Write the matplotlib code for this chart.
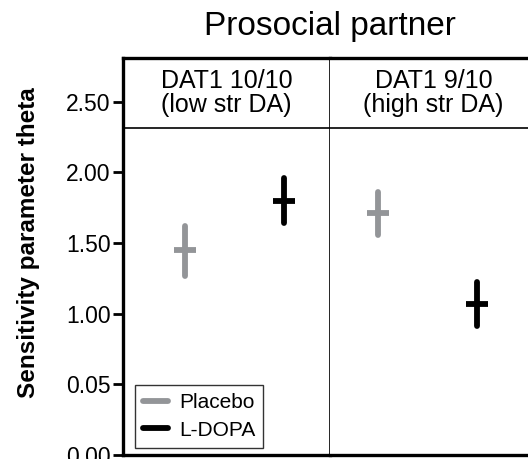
import matplotlib.pyplot as plt

plt.rcParams['font.family'] = ['Liberation Sans', 'DejaVu Sans']

panels = ["DAT1 10/10\n(low str DA)", "DAT1 9/10\n(high str DA)"]
groups = ["Placebo", "L-DOPA"]
colors = ["#939598", "#000000"]

# theta estimates and interval bounds per panel, order: Placebo, L-DOPA
theta = [[1.45, 1.80], [1.71, 1.07]]
lower = [[1.27, 1.64], [1.56, 0.915]]
upper = [[1.62, 1.96], [1.86, 1.225]]

ytick_vals = [0.0, 0.5, 1.0, 1.5, 2.0, 2.5]
ytick_labels = ["0.00", "0.05", "1.00", "1.50", "2.00", "2.50"]

fig = plt.figure(figsize=(5.28, 4.59), dpi=100)
W, H = 528, 459
left_px, mid_px, right_px = 123, 330, 537
top_px, bot_px = 58, 455
strip_val = 2.316
ymax = 2.81

dodge = [[0.30, 0.78], [0.23, 0.71]]

axes = []
for i in range(2):
    x0 = [left_px, mid_px][i]
    x1 = [mid_px, right_px][i]
    ax = fig.add_axes([x0 / W, (H - bot_px) / H, (x1 - x0) / W, (bot_px - top_px) / H])
    ax.set_xlim(0, 1)
    ax.set_ylim(0, ymax)
    ax.set_xticks([])
    for j in range(2):
        ax.plot([dodge[i][j], dodge[i][j]], [lower[i][j], upper[i][j]],
                color=colors[j], lw=4.2, solid_capstyle='round', zorder=3)
        ax.plot([dodge[i][j]], [theta[i][j]], marker='_', ms=16, mew=4.2,
                color=colors[j], zorder=3, solid_capstyle='round')
    ax.axhline(strip_val, color='black', lw=1.2)
    ax.text(0.5, (strip_val + ymax) / 2, panels[i], ha='center', va='center',
            fontsize=18, linespacing=1.0)
    for s in ax.spines.values():
        s.set_linewidth(1.2)
    axes.append(ax)

ax1, ax2 = axes
ax1.spines['left'].set_linewidth(2.4)
ax1.spines['top'].set_linewidth(2.4)
ax1.spines['bottom'].set_linewidth(2.4)
ax2.spines['top'].set_linewidth(2.4)
ax2.spines['bottom'].set_linewidth(2.4)
ax2.spines['left'].set_visible(False)

ax1.set_yticks(ytick_vals)
ax1.set_yticklabels(ytick_labels)
ax1.tick_params(axis='y', length=7, width=2, labelsize=16.5, pad=2)
ax2.set_yticks([])
ax1.set_ylabel("Sensitivity parameter theta", fontsize=17.5, fontweight='bold')
ax1.yaxis.set_label_coords(-0.40, 0.535)

handles = [plt.Line2D([0], [0], color=c, lw=4.2, solid_capstyle='round') for c in colors]
leg = ax1.legend(handles, groups, loc='lower left', bbox_to_anchor=(0.058, 0.018),
                 fontsize=15, frameon=True, fancybox=False, edgecolor='black',
                 handlelength=1.2, handletextpad=0.5, borderpad=0.4, labelspacing=0.4,
                 borderaxespad=0)
leg.get_frame().set_linewidth(1.0)

fig.text(330 / W, 1 - 27 / H, "Prosocial partner", ha='center', va='center', fontsize=24)

fig.savefig('out.png', dpi=100)
plt.close(fig)
